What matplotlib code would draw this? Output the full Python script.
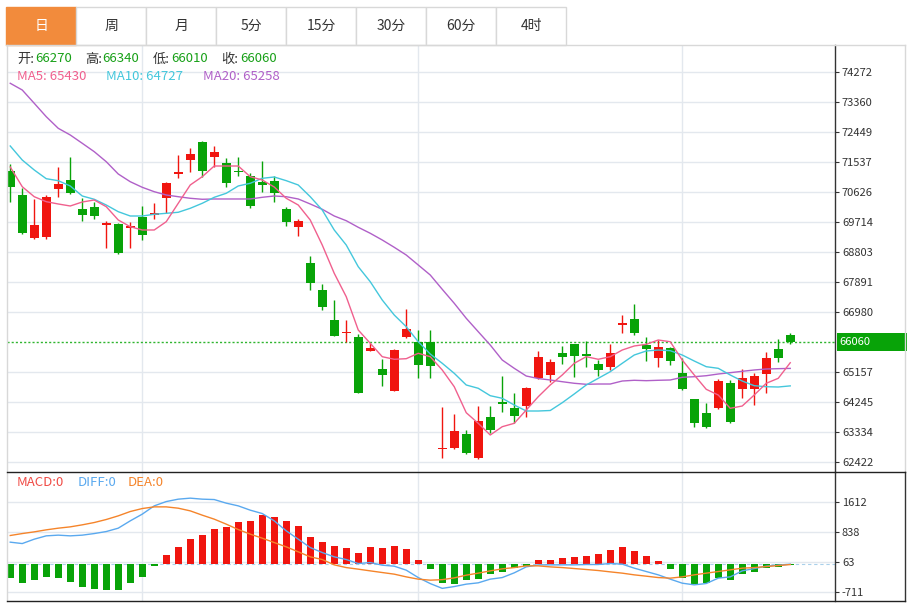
import numpy as np
import matplotlib
matplotlib.use("Agg")
import matplotlib.pyplot as plt
import matplotlib.transforms as mtransforms
from matplotlib.patches import Rectangle
from matplotlib.lines import Line2D

# ---- data ----
tabs = ["日", "周", "月", "5分", "15分", "30分", "60分", "4时"]

opens = np.array([71264, 70526, 69211, 69241, 70699, 70982, 70101, 70162, 69606, 69645,
                  69515, 69867, 69909, 70426, 71164, 71589, 72127, 71690, 71507, 71255,
                  71112, 70930, 70961, 70092, 69545, 68451, 67640, 66729, 66325, 66203,
                  65796, 65240, 64581, 66203, 66051, 66051, 62800, 62831, 63256, 62527,
                  63773, 64228, 64064, 64116, 64957, 65058, 65717, 65990, 65696, 65383,
                  65310, 66568, 66750, 65969, 65565, 65869, 65128, 64319, 63894, 64046,
                  64824, 64623, 64632, 65088, 65839, 66270])
highs = np.array([71468, 70739, 70396, 70526, 71386, 71690, 70426, 70323, 69736, 69666,
                  69715, 70192, 70274, 70930, 71741, 71945, 72167, 72015, 71659, 71671,
                  71185, 71568, 71088, 70152, 69788, 68673, 67822, 67336, 66729, 66303,
                  66021, 65535, 65840, 67054, 66425, 66425, 64076, 63873, 63387, 64116,
                  64116, 65027, 64502, 64690, 65796, 65544, 65939, 66000, 66091, 65513,
                  65990, 66881, 67215, 66221, 66121, 65918, 65565, 64330, 64198, 64927,
                  64906, 65231, 65109, 65766, 66142, 66340])
lows = np.array([70323, 69340, 69190, 69180, 70456, 70560, 69727, 69788, 68907, 68725,
                 68907, 69159, 69788, 69970, 71034, 71234, 71082, 71386, 70778, 71112,
                 70122, 70626, 70323, 69584, 69290, 67640, 67032, 66230, 66069, 64500,
                 65780, 64724, 64560, 66190, 64957, 64957, 62545, 62810, 62658, 62500,
                 63305, 63943, 63590, 63791, 64927, 64854, 65392, 64988, 65310, 65027,
                 65210, 66325, 66273, 65492, 65310, 65352, 64610, 63487, 63450, 64030,
                 63600, 64368, 64146, 64520, 65462, 66010])
closes = np.array([70778, 69363, 69615, 70475, 70860, 70578, 69928, 69897, 69676, 68773,
                   69593, 69311, 69970, 70882, 71216, 71772, 71255, 71823, 70900, 71216,
                   70201, 70830, 70572, 69715, 69745, 67862, 67133, 66252, 66373, 64520,
                   65869, 65058, 65817, 66446, 65362, 65340, 62849, 63366, 62697, 63660,
                   63387, 64168, 63821, 64672, 65614, 65462, 65614, 65635, 65635, 65210,
                   65717, 66647, 66325, 65857, 65899, 65483, 64632, 63590, 63469, 64885,
                   63621, 64957, 65027, 65583, 65583, 66060])

ma5 = np.array([71377, 70778, 70474, 70323, 70253, 70192, 70313, 70374, 70171, 69767,
                69563, 69463, 69463, 69715, 70274, 70830, 71082, 71407, 71407, 71407,
                71082, 70982, 70769, 70426, 70222, 69767, 69007, 68147, 67436, 66425,
                66021, 65614, 65535, 65553, 65717, 65614, 65210, 64702, 63912, 63590,
                63235, 63487, 63590, 63994, 64398, 64754, 65058, 65413, 65614, 65535,
                65614, 65817, 65939, 65990, 66121, 66069, 65513, 65058, 64623, 64450,
                64046, 64116, 64450, 64806, 64957, 65430])
ma10 = np.array([72015, 71589, 71286, 71021, 70961, 70800, 70496, 70396, 70222, 70019,
                 69888, 69888, 69940, 69970, 70001, 70122, 70274, 70456, 70578, 70800,
                 70882, 71033, 71073, 70961, 70830, 70474, 70070, 69463, 69007, 68348,
                 67892, 67336, 66880, 66525, 66069, 65696, 65413, 65109, 64754, 64654,
                 64429, 64350, 64146, 63964, 63964, 63979, 64216, 64481, 64754, 64957,
                 65158, 65413, 65665, 65787, 65817, 65796, 65665, 65483, 65310, 65261,
                 65058, 64875, 64733, 64702, 64693, 64727])
ma20 = np.array([73920, 73716, 73312, 72905, 72552, 72349, 72097, 71842, 71538, 71164,
                 70930, 70760, 70626, 70526, 70474, 70426, 70396, 70405, 70405, 70405,
                 70405, 70456, 70496, 70474, 70405, 70253, 70092, 69888, 69745, 69545,
                 69363, 69159, 68937, 68703, 68400, 68096, 67661, 67236, 66780, 66373,
                 65969, 65513, 65261, 65027, 64951, 64906, 64854, 64806, 64775, 64784,
                 64784, 64875, 64897, 64885, 64897, 64906, 64988, 65006, 65036, 65088,
                 65128, 65170, 65210, 65240, 65250, 65258])

macd = np.array([-346, -491, -405, -320, -346, -457, -586, -629, -672, -672,
                 -474, -328, -44, 240, 447, 645, 749, 911, 955, 1092,
                 1126, 1265, 1229, 1118, 989, 713, 576, 465, 413, 300,
                 454, 413, 473, 387, 103, -129, -474, -500, -413, -387,
                 -258, -199, -88, -44, 103, 103, 163, 189, 223, 258,
                 378, 447, 336, 206, 86, -129, -346, -516, -474, -361,
                 -413, -242, -191, -103, -70, -10])
diff = np.array([568, 532, 645, 731, 749, 731, 749, 790, 842, 929,
                 1118, 1291, 1505, 1616, 1678, 1704, 1678, 1668, 1575, 1505,
                 1394, 1307, 1118, 860, 645, 429, 300, 189, 120, 16,
                 41, -26, -52, -155, -346, -501, -625, -578, -516, -482,
                 -387, -346, -224, -70, -18, -18, -18, -18, -9, -9,
                 17, 0, -103, -190, -276, -387, -491, -534, -500, -361,
                 -328, -173, -113, -52, -26, 0])
dea = np.array([740, 790, 834, 886, 929, 963, 1015, 1075, 1153, 1247,
                1359, 1436, 1479, 1479, 1445, 1376, 1265, 1162, 1033, 894,
                775, 671, 558, 447, 318, 189, 120, -18, -88, -129,
                -173, -216, -258, -328, -387, -413, -400, -354, -284, -232,
                -173, -121, -88, -44, -44, -70, -88, -113, -138, -164,
                -199, -232, -276, -310, -346, -361, -328, -276, -232, -190,
                -147, -103, -88, -62, -36, -10])

price_ticks = [74272, 73360, 72449, 71537, 70626, 69714, 68803, 67891, 66980,
               65157, 64245, 63334, 62422]
macd_ticks = [1612, 838, 63, -711]
month_starts = [11, 34, 56]

ma_last = {"MA5": 65430, "MA10": 64727, "MA20": 65258}

RED = "#f0150f"
GREEN = "#08a308"
C_MA5 = "#f0608e"
C_MA10 = "#44c7dc"
C_MA20 = "#b060c8"
C_DIFF = "#5aa9ef"
C_DEA = "#f5842a"
GRID = "#e3e8ee"
BORDER = "#d8d8d8"
DARK = "#333333"

plt.rcParams["font.family"] = ["Noto Sans CJK SC", "DejaVu Sans"]

W, H = 913, 604
fig = plt.figure(figsize=(W / 100, H / 100), dpi=100)


def fx(px):
    return px / W


def fy(py):
    return 1 - py / H


def fline(xs, ys, color, lw=1.0):
    fig.add_artist(Line2D([fx(v) for v in xs], [fy(v) for v in ys],
                          color=color, lw=lw, transform=fig.transFigure))


# ---- period tabs ----
for i, name in enumerate(tabs):
    left = 6.4 + 70 * i
    active = i == 0
    fig.add_artist(Rectangle((fx(left), fy(44.5)), 70 / W, 38 / H,
                             transform=fig.transFigure,
                             facecolor="#f28b3c" if active else "white",
                             edgecolor="#f28b3c" if active else BORDER, lw=1))
    fig.text(fx(left + 35), fy(26), name, ha="center", va="center",
             fontsize=10, color="white" if active else DARK)

top, mid, bot = 44.5, 471.7, 601
left_px, right_px = 7, 835

ax = fig.add_axes([fx(left_px), fy(mid), (right_px - left_px) / W, (mid - top) / H])
axm = fig.add_axes([fx(left_px), fy(bot), (right_px - left_px) / W, (bot - mid) / H])

x = np.arange(len(closes))
xlim = (-0.27, -0.27 + (right_px - left_px) / 12)

# ---- candles ----
up = closes >= opens
ccol = np.where(up, RED, GREEN)
ax.vlines(x, lows, highs, colors=ccol, lw=1, zorder=3)
ax.bar(x, np.maximum(np.abs(closes - opens), 35), bottom=np.minimum(opens, closes),
       width=0.72, color=ccol, lw=0, zorder=3)

ax.plot(x, ma20, color=C_MA20, lw=1, zorder=4)
ax.plot(x, ma10, color=C_MA10, lw=1, zorder=4)
ax.plot(x, ma5, color=C_MA5, lw=1, zorder=4)

ax.axhline(closes[-1], color="#2fb52f", lw=1, ls=(0, (1.5, 1.5)), zorder=2)

ax.set_xlim(*xlim)
ax.set_ylim(62120, 75098)
ax.set_yticks(price_ticks)
ax.set_yticklabels([str(t) for t in price_ticks])
ax.grid(axis="y", color=GRID, lw=1)
for m in month_starts:
    ax.axvline(m, color=GRID, lw=1, zorder=0)
ax.set_axisbelow(True)

# current price label
blend = mtransforms.blended_transform_factory(ax.transAxes, ax.transData)
half = 9.4 * (75098 - 62120) / (mid - top)
ax.add_patch(Rectangle((1.002, closes[-1] - half), (905 - right_px) / (right_px - left_px),
                       2 * half, transform=blend, facecolor=GREEN, lw=0,
                       clip_on=False, zorder=6))
ax.text(1.0055, closes[-1], str(closes[-1]), transform=blend, color="white",
        fontsize=8, va="center", ha="left", zorder=7, clip_on=False)

# header texts
hdr = [("开:", opens[-1], 17, 35), ("高:", highs[-1], 85, 102.5),
       ("低:", lows[-1], 153, 171.5), ("收:", closes[-1], 221.5, 240)]
for lab, val, xl, xv in hdr:
    fig.text(fx(xl), fy(59), lab, color=DARK, fontsize=9.5, va="center")
    fig.text(fx(xv), fy(59), str(val), color="#17a017", fontsize=9.5, va="center")
for (name, val), col, xl in zip(ma_last.items(), [C_MA5, C_MA10, C_MA20], [17, 106, 203]):
    fig.text(fx(xl), fy(77), f"{name}: {val}", color=col, fontsize=9.5, va="center")

# ---- MACD ----
mcol = np.where(macd >= 0, RED, GREEN)
axm.bar(x, macd, width=0.62, color=mcol, lw=0, zorder=3)
axm.axhline(0, color="#a9d0ea", lw=0.8, ls=(0, (3, 2.5)), zorder=2)
axm.plot(x, diff, color=C_DIFF, lw=1, zorder=4)
axm.plot(x, dea, color=C_DEA, lw=1, zorder=4)
axm.set_xlim(*xlim)
axm.set_ylim(-951, 2387)
axm.set_yticks(macd_ticks)
axm.set_yticklabels([str(t) for t in macd_ticks])
axm.grid(axis="y", color=GRID, lw=1)
for m in month_starts:
    axm.axvline(m, color=GRID, lw=1, zorder=0)
axm.set_axisbelow(True)

fig.text(fx(17), fy(482.5), "MACD:0", color="#f04b45", fontsize=9.5, va="center")
fig.text(fx(78), fy(482.5), "DIFF:0", color=C_DIFF, fontsize=9.5, va="center")
fig.text(fx(128), fy(482.5), "DEA:0", color=C_DEA, fontsize=9.5, va="center")

for a in (ax, axm):
    a.set_xticks([])
    a.yaxis.tick_right()
    a.tick_params(axis="y", direction="out", length=3, width=0.8, color=DARK,
                  labelsize=8, labelcolor=DARK, pad=2)
    for s in ("left", "top", "bottom"):
        a.spines[s].set_visible(False)
    a.spines["right"].set_color(DARK)
    a.spines["right"].set_linewidth(1)
    a.patch.set_alpha(0)

# ---- frame lines ----
fline([6.4, 905], [top, top], BORDER)
fline([6.7, 6.7], [top, bot], BORDER)
fline([905, 905], [top, mid], BORDER)
fline([905, 905], [mid, bot], DARK)
fline([6.7, 905], [mid, mid], "#222222")
fline([6.7, 905], [bot, bot], "#222222")

fig.savefig("out.png", dpi=100)
